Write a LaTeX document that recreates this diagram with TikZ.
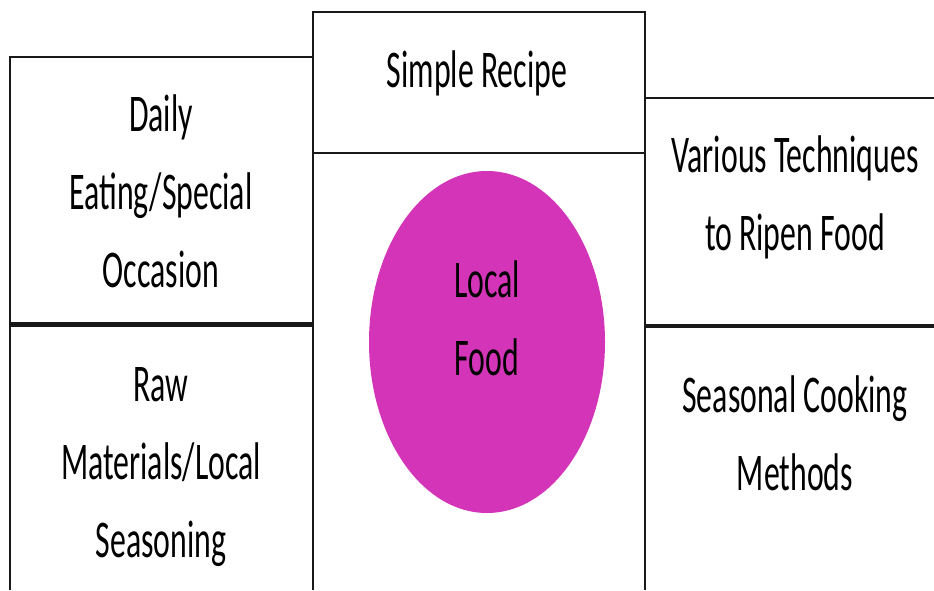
\documentclass[tikz,border=0pt]{standalone}
\usepackage{fontspec}
\setmainfont[FakeStretch=0.6]{Carlito}
\begin{document}
\definecolor{foodpink}{RGB}{212,53,184}
\definecolor{inkline}{RGB}{25,25,25}
\tikzset{
  rule/.style={draw=inkline, line width=2.5pt},
  heavyrule/.style={draw=inkline, line width=5pt},
  midrule/.style={draw=inkline, line width=3.5pt},
  % base anchor of a multi-line label sits on its last line
  label/.style={inner sep=0pt, align=center, anchor=base, text=black,
    font=\fontsize{53}{78}\selectfont},
}
\begin{tikzpicture}[x=1pt, y=-1pt]
  \useasboundingbox (0,0) rectangle (934,590);
  % left column
  \draw[rule] (10,590) -- (10,57) -- (313,57);
  \draw[heavyrule] (10,324) -- (313,324);
  % centre column
  \draw[rule] (313,590) -- (313,12) -- (645,12) -- (645,590);
  \draw[rule] (313,153) -- (645,153);
  % right column
  \draw[rule] (645,98) -- (934,98);
  \draw[midrule] (645,326) -- (934,326);
  % central ellipse
  \fill[foodpink] (487,342) ellipse [x radius=118, y radius=171];
  % captions
  \node[label] (recipe) at (477,87) {Simple Recipe};
  \node[label] (daily) at (161,287) {Daily\\Eating/Special\\Occasion};
  \node[label] (raw) at (161,557) {Raw\\Materials/Local\\Seasoning};
  \node[label] (ripen) at (795,250) {Various Techniques\\to Ripen Food};
  \node[label] (season) at (795,490) {Seasonal Cooking\\Methods};
  \node[label] (food) at (487,375) {Local\\Food};
\end{tikzpicture}
\end{document}
